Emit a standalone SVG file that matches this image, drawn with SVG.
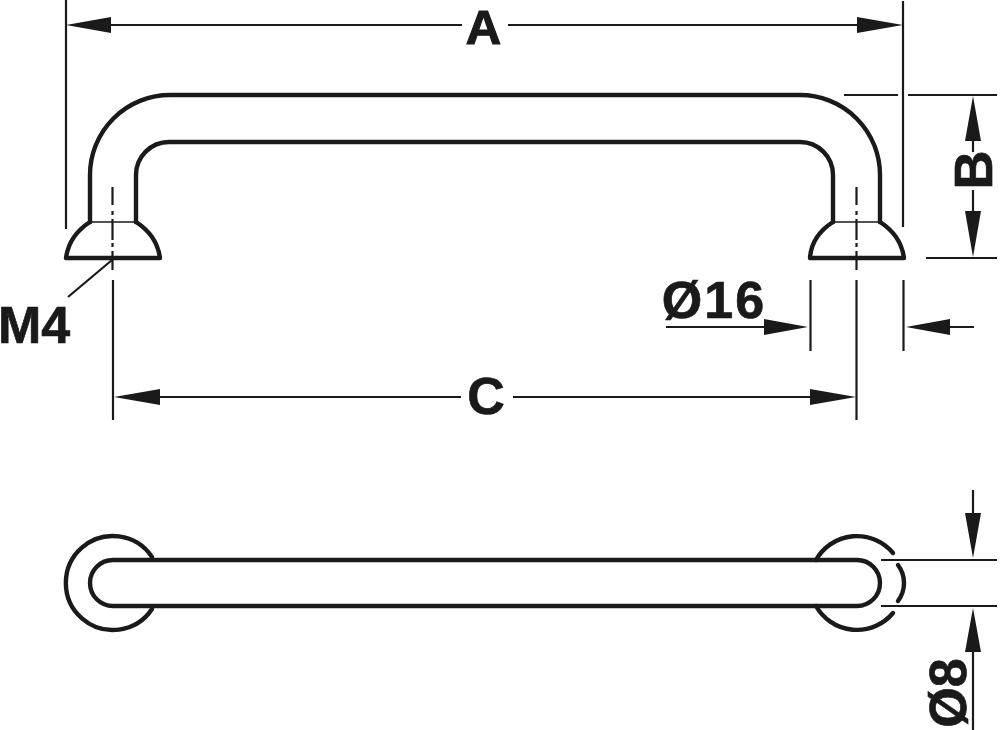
<svg xmlns="http://www.w3.org/2000/svg" width="1001" height="730" viewBox="0 0 1001 730">
<style>
.o{fill:none;stroke:#1a1a1a;stroke-width:4.4;stroke-linejoin:round;stroke-linecap:round}
.m{fill:none;stroke:#1a1a1a;stroke-width:1.6}
.d{fill:none;stroke:#1a1a1a;stroke-width:2.2}
.c{fill:none;stroke:#1a1a1a;stroke-width:2.2}
.a{fill:#1a1a1a}
text{font-family:"Liberation Sans",Arial,sans-serif;font-weight:700;font-size:52px;fill:#1a1a1a;stroke:#1a1a1a;stroke-width:.7}
</style>
<rect width="1001" height="730" fill="#fff"/>
<g id="handle-side">
<path class="o" d="M90 222V175A80 80 0 0 1 170 95H800A80 80 0 0 1 880 175V222"/>
<path class="o" d="M136 222V175A33 33 0 0 1 169 142H800A33 33 0 0 1 833 175V222"/>
<path class="m" d="M90 222H136M833 222H880"/>
<path class="o" d="M90 222C76 231 68 243 66 258H160C158 243 150 231 136 222"/>
<path class="o" d="M833 222C819 231 811 243 810 258H904C902 243 894 231 880 222"/>
</g>
<g id="handle-top">
<path class="o" d="M113 560H857A23 23 0 0 1 857 606H113A23 23 0 0 1 113 560"/>
<path class="o" d="M152 557A47 47 0 1 0 152 609"/>
<path class="o" d="M816 560A47 47 0 0 1 893 553M816 606A47 47 0 0 0 893 613M898 565A30 30 0 0 1 898 601"/>
</g>
<g id="connectors">
<path class="c" d="M112.500 187V205M112.500 211V215M112.500 219V240M112.500 243V247M112.500 251V270M856.500 187V205M856.500 211V215M856.500 219V240M856.500 243V247M856.500 251V270"/>
<path class="d" d="M66 0V229M903 1V227M113 280V420M856.500 280V420M810.500 280V351M903.500 280V351"/>
<path class="d" d="M108 25H462M508 25H860M844 95H898M908 95H997M926 258H997M973 140V152M973 190V212M666 327H766M948 327H974M158 397H461M513 397H812M68 297L112 260"/>
<path class="d" d="M881 560H997M881 606H997M973 490V514M973 650V730"/>
<path class="a" d="M66 25L111 17V33ZM903 25L857 17V33ZM973 96L981 141H965ZM973 257L965 211H981ZM808 327L764 319V335ZM906 327L950 319V335ZM114 397L160 389V405ZM856 397L810 389V405ZM973 558L965 513H981ZM973 608L981 652H965Z"/>
</g>
<g id="labels">
<text x="483.500" y="44" text-anchor="middle" style="font-size:49px;stroke-width:1.2px">A</text>
<text x="486" y="414" text-anchor="middle">C</text>
<text x="-2" y="343">M4</text>
<text x="714" y="318" text-anchor="middle" letter-spacing="2">Ø16</text>
<text transform="translate(992 170) rotate(-90)" text-anchor="middle" style="font-size:54px">B</text>
<text transform="translate(966 693) rotate(-90)" text-anchor="middle">Ø8</text>
</g>
</svg>
